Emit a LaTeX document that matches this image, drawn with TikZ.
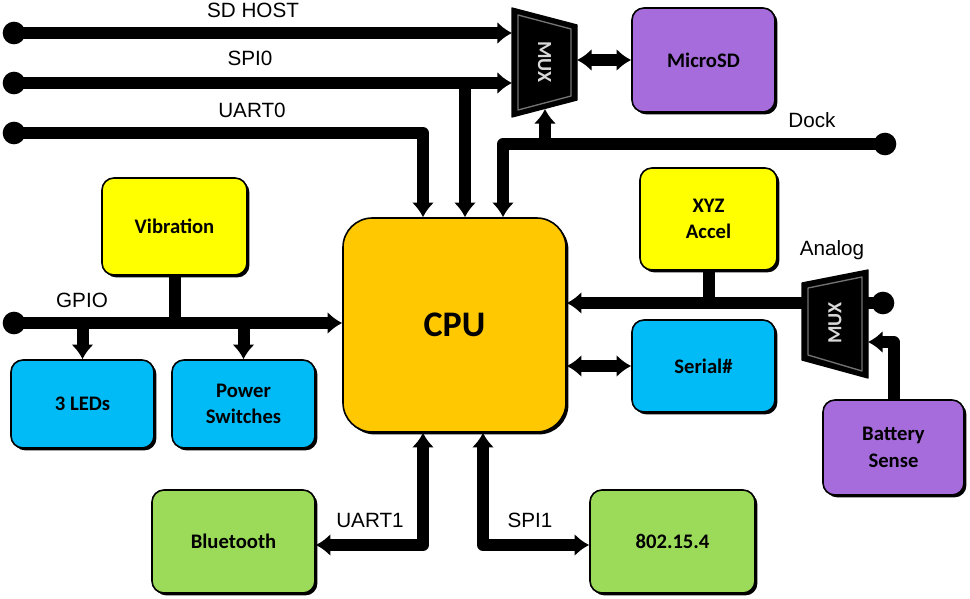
\documentclass[tikz,border=0pt]{standalone}
\usepackage{fontspec}
\setmainfont{Liberation Sans}
\newfontfamily\boxfont{Carlito}
\usetikzlibrary{arrows.meta,shadows}
\definecolor{cyel}{HTML}{FFFF00}
\definecolor{ccpu}{HTML}{FFC800}
\definecolor{ccyan}{HTML}{00BBF5}
\definecolor{cpurp}{HTML}{A66CDC}
\definecolor{cgrn}{HTML}{9CDB5A}
\begin{document}
\begin{tikzpicture}[x=0.75pt,y=-0.75pt,
  blk/.style={rectangle, rounded corners=9pt, draw=black, line width=1.2pt, inner sep=0pt, align=center,
    font=\boxfont\bfseries\fontsize{15.5}{20}\selectfont,
    drop shadow={shadow xshift=1.8pt, shadow yshift=-1.8pt, fill=black, opacity=1}},
  bus/.style={line width=9pt, line join=round},
  arr/.style={bus, -{Latex[length=11pt,width=17pt]}},
  darr/.style={bus, {Latex[length=11pt,width=17pt]}-{Latex[length=11pt,width=17pt]}},
  enddot/.style={circle, fill=black, minimum size=17pt, inner sep=0pt},
  lbl/.style={font=\fontsize{15.5}{18}\selectfont},
  muxtxt/.style={font=\boxfont\bfseries\fontsize{15}{18}\selectfont, text=white!85!black},
  muxbody/.style={fill=black, draw=black, line width=1pt, line join=round},
  muxbevel/.style={draw=black!55, line width=1pt, line join=round}
]
\path[use as bounding box] (0,0) rectangle (970,599);

% ---- boxes ----
\node[blk, fill=cyel, minimum width=108.75pt, minimum height=72.75pt] (vib) at (174.5,226.5) {Vibration};
\node[blk, fill=ccyan, minimum width=107.25pt, minimum height=66pt] (leds) at (82.5,404) {3 LEDs};
\node[blk, fill=ccyan, minimum width=107.25pt, minimum height=66pt] (pwr) at (243.5,404) {Power\\Switches};
\node[blk, fill=ccpu, rounded corners=22pt, minimum width=167.25pt, minimum height=160.5pt,
      font=\boxfont\bfseries\fontsize{27}{30}\selectfont] (cpu) at (454.5,325) {CPU};
\node[blk, fill=cpurp, minimum width=107.25pt, minimum height=78pt] (sd) at (703.5,60) {MicroSD};
\node[blk, fill=cyel, minimum width=102.75pt, minimum height=76.5pt] (xyz) at (708.5,219) {XYZ\\Accel};
\node[blk, fill=ccyan, minimum width=107.25pt, minimum height=69pt] (ser) at (703.5,366) {Serial\#};
\node[blk, fill=cpurp, minimum width=105.75pt, minimum height=71.25pt] (bat) at (893.5,447.5) {Battery\\Sense};
\node[blk, fill=cgrn, minimum width=122.25pt, minimum height=77.25pt] (bt) at (233.5,541.5) {Bluetooth};
\node[blk, fill=cgrn, minimum width=123.75pt, minimum height=77.25pt] (zig) at (672.5,541.5) {802.15.4};

% ---- MUX 1 ----
\filldraw[muxbody] (512,8) -- (577,25) -- (577,100) -- (512,117) -- cycle;
\draw[muxbevel] (518,15) -- (571,29) -- (571,96) -- (518,110) -- cycle;
\node[muxtxt, rotate=-90] (mux1) at (544.5,62) {MUX};
\coordinate (m1a) at (512,33);
\coordinate (m1b) at (512,83);
\coordinate (m1r) at (577,60);
\coordinate (m1bot) at (545,109);

% ---- MUX 2 ----
\filldraw[muxbody] (802,283) -- (868,270) -- (868,378) -- (802,360) -- cycle;
\draw[muxbevel] (808,288) -- (862,277) -- (862,371) -- (808,355) -- cycle;
\node[muxtxt, rotate=90] (mux2) at (835,323) {MUX};
\coordinate (m2l) at (802,303);
\coordinate (m2r) at (868,303);
\coordinate (m2r2) at (868,342);

% ---- end dots ----
\node[enddot] (dsd) at (14,33) {};
\node[enddot] (dspi) at (14,83) {};
\node[enddot] (duart) at (14,133) {};
\node[enddot] (dgpio) at (14,323) {};
\node[enddot] (ddock) at (885,144) {};
\node[enddot] (dan) at (883,303) {};

% ---- junctions ----
\coordinate (j1) at (465,83);
\coordinate (t1) at (423,133);
\coordinate (t3) at (503,144);
\coordinate (t4) at (545,144);
\coordinate (b1) at (423,545);
\coordinate (b2) at (483,545);

% ---- connectors ----
\draw[arr] (dsd.center) -- (m1a);
\draw[arr] (dspi.center) -- (m1b);
\draw[arr] (j1) -- (j1 |- cpu.north);
\draw[arr] (duart.center) -- (t1) -- (t1 |- cpu.north);
\draw[arr] (ddock.center) -- (t3) -- (t3 |- cpu.north);
\draw[arr] (t4) -- (m1bot);
\draw[darr] (m1r) -- (sd.west);

\draw[arr] (dgpio.center) -- (dgpio.center -| cpu.west);
\draw[bus] (vib.south) -- (vib.south |- dgpio.center);
\draw[arr] (leds.north |- dgpio.center) -- (leds.north);
\draw[arr] (pwr.north |- dgpio.center) -- (pwr.north);

\draw[arr] (m2l) -- (m2l -| cpu.east);
\draw[bus] (xyz.south) -- (xyz.south |- m2l);
\draw[bus] (m2r) -- (dan.center);
\draw[arr] (bat.north) |- (m2r2);

\draw[darr] (cpu.east |- ser.west) -- (ser.west);

\draw[darr] (b1 |- cpu.south) -- (b1) -- (b1 -| bt.east);
\draw[darr] (b2 |- cpu.south) -- (b2) -- (b2 -| zig.west);

% ---- labels ----
\node[lbl] (lsd) at (253,10) {SD HOST};
\node[lbl] (lspi) at (250,58) {SPI0};
\node[lbl] (luart) at (252,110) {UART0};
\node[lbl] (lgpio) at (82,300) {GPIO};
\node[lbl] (ldock) at (812,120) {Dock};
\node[lbl] (lan) at (832,250) {Analog};
\node[lbl] (luart1) at (370,520) {UART1};
\node[lbl] (lspi1) at (530,520) {SPI1};
\end{tikzpicture}
\end{document}
